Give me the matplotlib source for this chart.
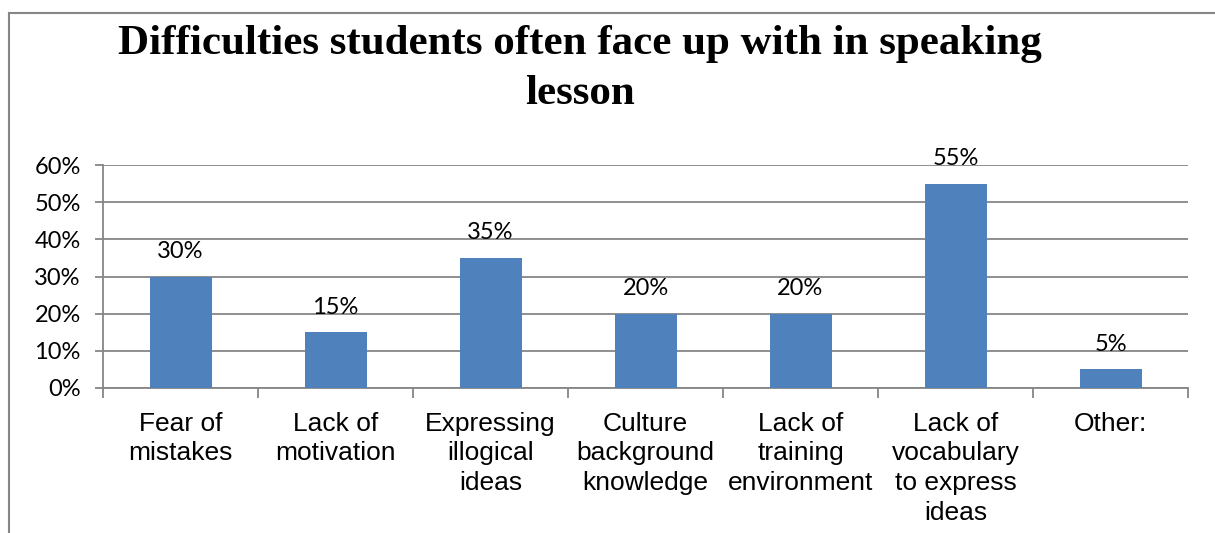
import matplotlib
matplotlib.use("Agg")
import matplotlib.pyplot as plt
from matplotlib.lines import Line2D
from matplotlib.ticker import PercentFormatter

categories = ["Fear of\nmistakes", "Lack of\nmotivation", "Expressing\nillogical\nideas",
              "Culture\nbackground\nknowledge", "Lack of\ntraining\nenvironment",
              "Lack of\nvocabulary\nto express\nideas", "Other:"]
values = [0.30, 0.15, 0.35, 0.20, 0.20, 0.55, 0.05]
y_ticks = [0.0, 0.1, 0.2, 0.3, 0.4, 0.5, 0.6]
title = "Difficulties students often face up with in speaking\nlesson"

W, H = 1215, 533
fig = plt.figure(figsize=(W / 100, H / 100), dpi=100)
ax = fig.add_axes([103 / W, 1 - 388 / H, (1188 - 103) / W, (388 - 165) / H])

grey = "#868686"
x = range(len(values))
ax.bar(x, values, width=0.4, color="#4F81BD", zorder=3)

for i, v in enumerate(values):
    ax.annotate(f"{v:.0%}", (i, v), xytext=(0, 25), textcoords="offset pixels",
                ha="center", va="center", fontsize=17, family="Lato", color="black")

ax.set_xlim(-0.5, len(values) - 0.5)
ax.set_ylim(0, 0.6)
ax.set_yticks(y_ticks)
ax.yaxis.set_major_formatter(PercentFormatter(1.0, decimals=0))
ax.grid(axis="y", color=grey, linewidth=1.3, zorder=0)
ax.tick_params(axis="y", length=6, width=1.3, color=grey, pad=10, labelsize=17)
for lab in ax.get_yticklabels():
    lab.set_family("Lato")

ax.set_xticks(list(x))
ax.set_xticklabels(categories, fontsize=19, family="Liberation Sans", linespacing=1.3)
ax.set_xticks([i - 0.5 for i in range(len(values) + 1)], minor=True)
ax.tick_params(axis="x", which="major", length=0, pad=17)
ax.tick_params(axis="x", which="minor", length=7, width=1.3, color=grey)

for s in ["top", "right"]:
    ax.spines[s].set_visible(False)
for s in ["left", "bottom"]:
    ax.spines[s].set_color(grey)
    ax.spines[s].set_linewidth(1.3)

fig.text(580 / W, 1 - 25 / H, title, ha="center", va="top", fontsize=31,
         family="Liberation Serif", weight="bold", linespacing=1.4)

# chart area border (cropped on right and bottom)
fig.add_artist(Line2D([8.5 / W, 8.5 / W], [0, 1 - 12.5 / H], color=grey, lw=1.5))
fig.add_artist(Line2D([8.5 / W, 1], [1 - 12.5 / H, 1 - 12.5 / H], color=grey, lw=1.5))

fig.savefig("out.png", dpi=100)
